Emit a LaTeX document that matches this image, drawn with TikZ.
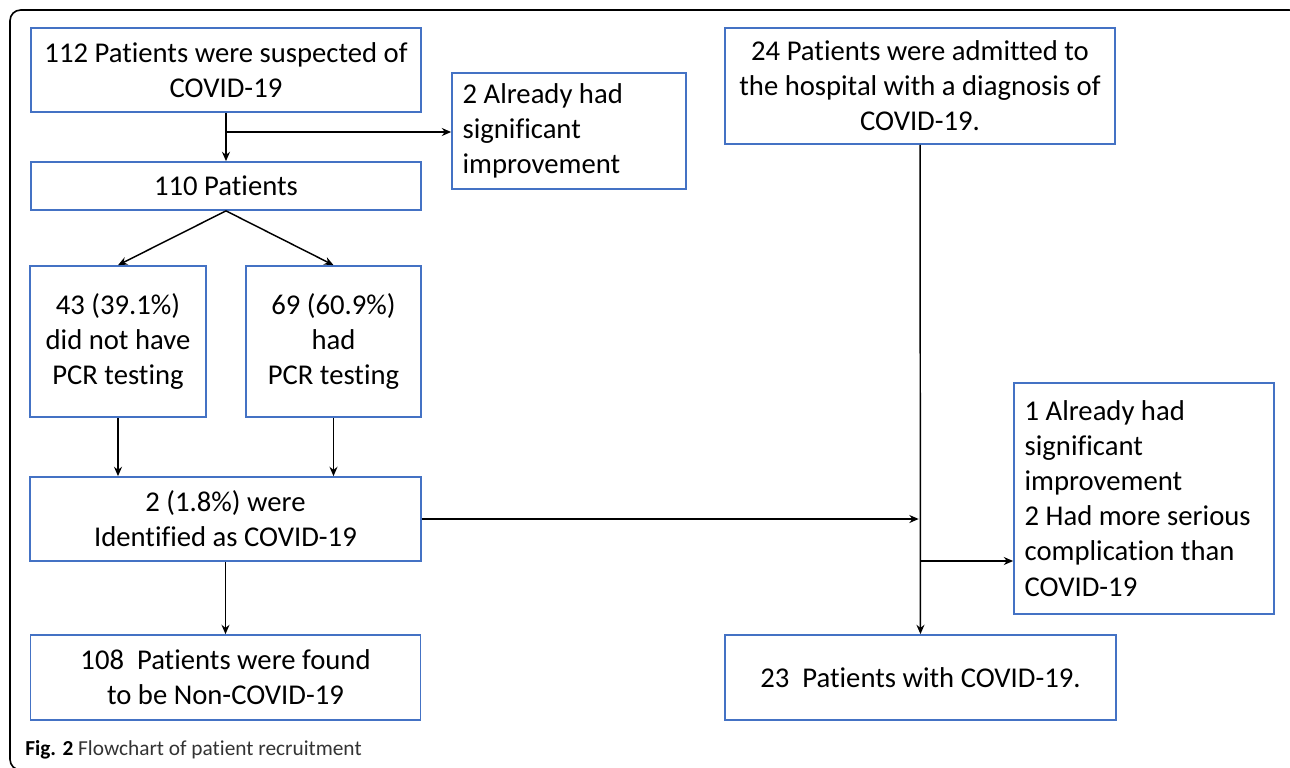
\documentclass[tikz,border=0pt]{standalone}
\usepackage{fontspec}
\setmainfont[Ligatures=NoCommon]{Carlito}
\usetikzlibrary{positioning,arrows.meta}
\definecolor{boxblue}{HTML}{4472C4}

\begin{document}
\begin{tikzpicture}[
    x = 0.75pt,
    y = -0.75pt,
    box/.style = {
        rectangle,
        draw = boxblue,
        line width = 1.3pt,
        align = center,
        inner sep = 0pt,
        font = \fontsize{21.5}{26.3}\selectfont
    },
    note/.style = {
        box,
        align = flush left,
        inner xsep = 8pt
    },
    arrow/.style = {
        ->,
        >={Stealth[length=7pt, width=6pt]},
        line width = 1.1pt
    }
]

    % Frame
    \useasboundingbox (0,0) rectangle (1290,768);
    \clip (0,0) rectangle (1290,768);
    \draw [line width = 1.2pt, rounded corners = 8pt] (10,10) rectangle (1300,770);

    % Suspected patients (left column)
    \node [box, minimum width = 292.5pt, minimum height = 63pt] (p112) at (226,70) {112 Patients were suspected of\\COVID-19};
    \node [box, minimum width = 292.5pt, minimum height = 36pt] (p110) at (226,186) {110 Patients};
    \node [note, text width = 159.5pt, minimum height = 87pt] (impr) at (569,131) {2 Already had\\significant\\improvement};
    \node [box, minimum width = 132pt, minimum height = 113.25pt] (nopcr) at (118,341.5) {43 (39.1\%)\\did not have\\PCR testing};
    \node [box, minimum width = 131.25pt, minimum height = 113.25pt] (pcr) at (333.5,341.5) {69 (60.9\%)\\had\\PCR testing};
    \node [box, minimum width = 293.25pt, minimum height = 63pt] (ident) at (225.5,519) {2 (1.8\%) were\\Identified as COVID-19};
    \node [box, minimum width = 292.5pt, minimum height = 63.75pt] (p108) at (225.5,677.5) {108~ Patients were found\\to be Non-COVID-19};

    % Admitted patients (right column)
    \node [box, minimum width = 292.5pt, minimum height = 87pt] (p24) at (920,86) {24 Patients were admitted to\\the hospital with a diagnosis of\\COVID-19.};
    \node [note, text width = 179pt, minimum height = 173.25pt] (excl) at (1144,498.5) {1 Already had\\significant\\improvement\\2 Had more serious\\complication than\\COVID-19};
    \node [box, minimum width = 293.25pt, minimum height = 63.75pt] (p23) at (920.5,677.5) {23~ Patients with COVID-19.};

    % Caption
    \node [anchor = base west, inner sep = 0pt, font = \fontsize{16}{19}\selectfont] (cap) at (25,755)
        {\textbf{Fig. 2} \textcolor{black!80}{Flowchart of patient recruitment}};

    % Junctions
    \coordinate (j1) at (226,132);
    \coordinate (j2) at (920,561);

    % Left connections
    \draw [arrow] (p112) -- (p110);
    \draw [arrow] (j1) -- (j1 -| impr.west);
    \draw [arrow] (p110.south) -- (nopcr.north);
    \draw [arrow] (p110.south) -- (pcr.north);
    \draw [arrow] (nopcr.south) -- (nopcr.south |- ident.north);
    \draw [arrow] (pcr.south) -- (pcr.south |- ident.north);
    \draw [arrow] (ident) -- (p108);

    % Right connections
    \draw [arrow] (p24) -- (p23);
    \draw [arrow] (ident.east) -- ([xshift = -1pt] p24.south |- ident.east);
    \draw [arrow] (j2) -- (j2 -| excl.west);

\end{tikzpicture}
\end{document}
